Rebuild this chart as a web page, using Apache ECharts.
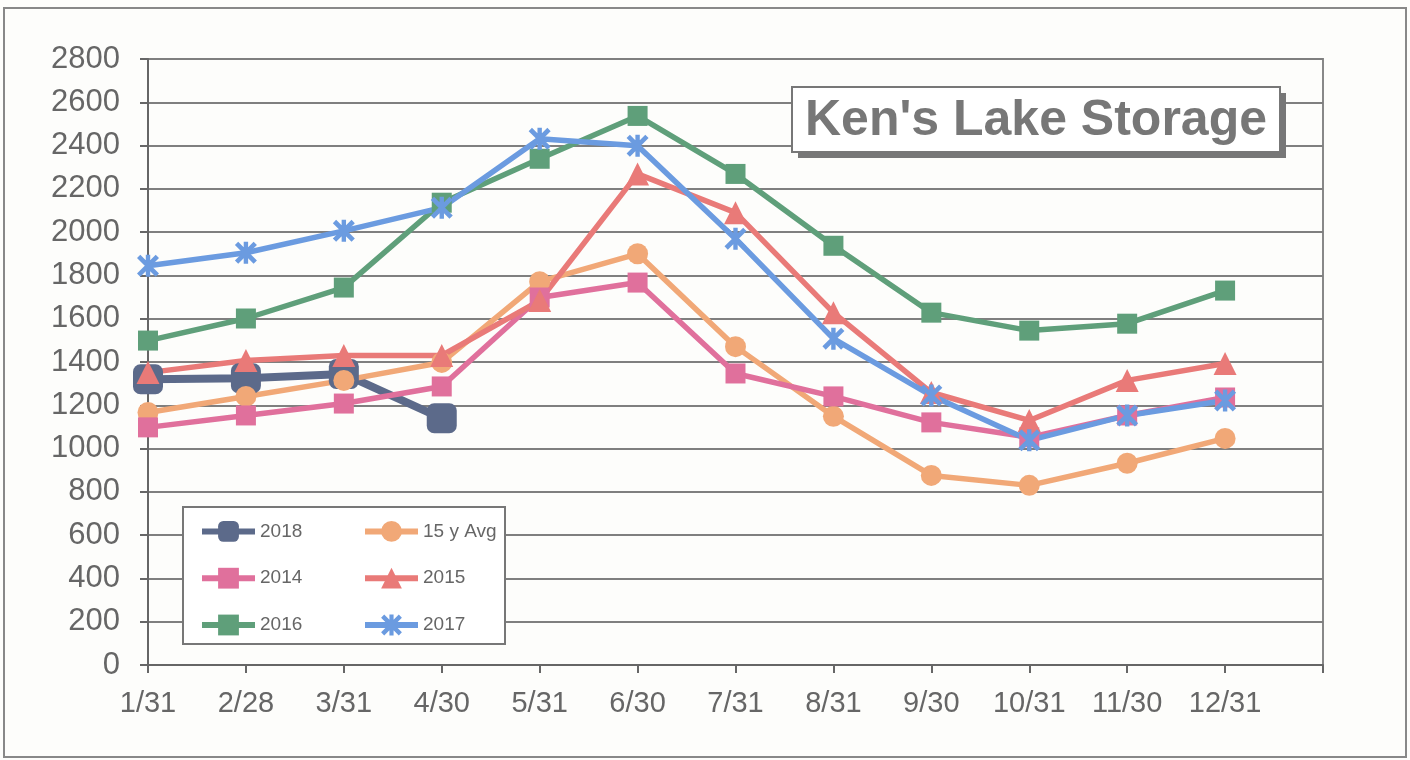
<!DOCTYPE html>
<html><head><meta charset="utf-8">
<script src="https://cdn.jsdelivr.net/npm/echarts@6/dist/echarts.min.js"></script>
<style>html,body{margin:0;padding:0;background:#fdfdfb;}#c{width:1410px;height:760px;}</style>
</head><body><div id="c"></div>
<script>
const categories = ['1/31','2/28','3/31','4/30','5/31','6/30','7/31','8/31','9/30','10/31','11/30','12/31'];
const yTicks = [0,200,400,600,800,1000,1200,1400,1600,1800,2000,2200,2400,2600,2800];
const s2018 = [1320, 1325, 1345, 1140];
const avg15 = [1167, 1241, 1315, 1398, 1771, 1900, 1471, 1149, 876, 830, 932, 1047];
const s2014 = [1098, 1153, 1208, 1287, 1698, 1767, 1347, 1241, 1121, 1052, 1153, 1236];
const s2015 = [1351, 1407, 1430, 1430, 1684, 2269, 2090, 1628, 1259, 1130, 1315, 1393];
const s2016 = [1499, 1601, 1744, 2136, 2339, 2537, 2269, 1937, 1628, 1545, 1577, 1730];
const s2017 = [1845, 1905, 2006, 2113, 2431, 2399, 1970, 1508, 1245, 1038, 1153, 1222];
const title = "Ken's Lake Storage";

const FONT = "'Liberation Sans', Arial, sans-serif";
const starPath = 'path://M0 3L3 0L20 17L17 20Z M17 0L20 3L3 20L0 17Z M8 0L12 0L12 20L8 20Z';

function line(name, data, color, symbol, size, width) {
  return {
    name, type: 'line', data, symbol, symbolSize: size, showSymbol: true,
    lineStyle: {color, width}, itemStyle: {color},
    emphasis: {disabled: true}, animation: false
  };
}

const legendCommon = {
  orient: 'vertical', top: 521, padding: 0, itemWidth: 53, itemHeight: 26, itemGap: 26,
  lineStyle: {width: 6},
  textStyle: {color: '#666', fontSize: 19, fontFamily: FONT}
};

const chart = echarts.init(document.getElementById('c'));
chart.setOption({
  backgroundColor: '#fdfdfb',
  animation: false,
  grid: {left: 148, right: 87, top: 59, bottom: 95, show: true, borderColor: '#888', borderWidth: 2},
  xAxis: {
    type: 'category', data: categories.concat(['']), boundaryGap: false,
    axisLine: {lineStyle: {color: '#666', width: 2}},
    axisTick: {show: true, length: 8, lineStyle: {color: '#666', width: 2}},
    axisLabel: {color: '#666', fontSize: 29, fontFamily: FONT, margin: 24, interval: 0},
    splitLine: {show: false}
  },
  yAxis: {
    type: 'value', min: yTicks[0], max: yTicks[yTicks.length - 1], interval: 200,
    axisLine: {show: true, lineStyle: {color: '#666', width: 2}},
    axisTick: {show: true, length: 8, lineStyle: {color: '#666', width: 2}},
    axisLabel: {color: '#666', fontSize: 31, fontFamily: FONT, margin: 28, formatter: v => String(v)},
    splitLine: {lineStyle: {color: '#7f7f7f', width: 2}}
  },
  legend: [
    Object.assign({data: ['2018', '2014', '2016'], left: 199}, legendCommon),
    Object.assign({data: ['15 y Avg', '2015', '2017'], left: 362}, legendCommon)
  ],
  graphic: [
    {type: 'rect', shape: {x: 4, y: 8, width: 1402, height: 749}, style: {fill: 'none', stroke: '#888', lineWidth: 2}, z: -10},
    {type: 'rect', shape: {x: 183, y: 507, width: 322, height: 137}, style: {fill: '#fff', stroke: '#777', lineWidth: 2}, z: 1},
    {type: 'rect', shape: {x: 798, y: 93, width: 488, height: 65}, style: {fill: '#777', stroke: null}, z: 50},
    {type: 'rect', shape: {x: 792, y: 87, width: 488, height: 65}, style: {fill: '#fff', stroke: '#777', lineWidth: 2}, z: 51},
    {type: 'text', x: 1036, y: 121, style: {text: title, fill: '#777', font: "bold 50px 'Liberation Sans', Arial, sans-serif", textAlign: 'center', textVerticalAlign: 'middle'}, z: 52}
  ],
  series: [
    line('2018', s2018, '#5c6a8a', 'roundRect', 30, 8),
    line('15 y Avg', avg15, '#f1a877', 'circle', 21, 5.5),
    line('2014', s2014, '#e0709c', 'rect', 20, 5.5),
    line('2015', s2015, '#e97a78', 'triangle', 23, 5.5),
    line('2016', s2016, '#5f9f7a', 'rect', 20, 5.5),
    line('2017', s2017, '#6b9be0', starPath, 22, 5.5)
  ]
});
</script></body></html>
